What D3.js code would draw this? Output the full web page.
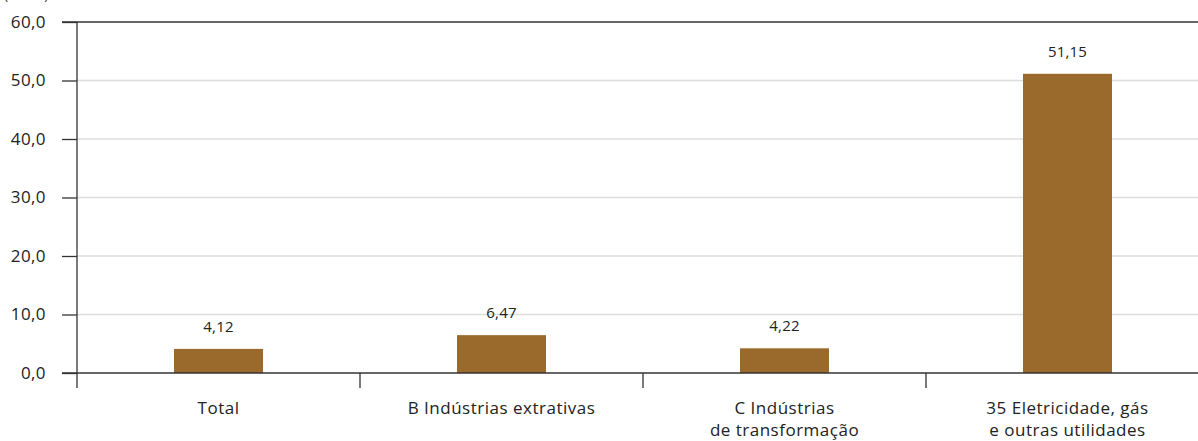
<!DOCTYPE html>
<html>
<head>
<meta charset="utf-8">
<script src="https://cdn.jsdelivr.net/npm/d3@7"></script>
<style>
  html, body { margin: 0; padding: 0; background: #fff; }
  svg { display: block; font-family: "Open Sans", "Noto Sans", sans-serif; }
</style>
</head>
<body>
<svg id="chart" width="1198" height="441"></svg>
<script>
// Categories (one label per line) and their values
const categories = [
  ["Total"],
  ["B Indústrias extrativas"],
  ["C Indústrias", "de transformação"],
  ["35 Eletricidade, gás", "e outras utilidades"]
];
const values = [4.12, 6.47, 4.22, 51.15];
const yTicks = [0, 10, 20, 30, 40, 50, 60];

(function () {
  const svg = d3.select("#chart");
  const W = 1198;
  const mLeft = 77, mTop = 22, mBottom = 373;
  const fmt = v => d3.format(".1f")(v).replace(".", ",");
  const fmt2 = v => d3.format(".2f")(v).replace(".", ",");

  const x = d3.scaleBand()
    .domain(d3.range(categories.length))
    .range([mLeft, mLeft + 283 * categories.length])
    .paddingInner(0).paddingOuter(0);

  const y = d3.scaleLinear().domain([0, 60]).range([mBottom, mTop]);

  // Unit label, running off the top edge
  svg.append("text")
    .attr("x", 4).attr("y", -1)
    .attr("font-size", 14).attr("fill", "#333")
    .text("(em %)");

  // Horizontal gridlines
  svg.append("g").selectAll("line")
    .data(yTicks.filter(t => t > 0 && t < 60))
    .join("line")
    .attr("x1", mLeft).attr("x2", W)
    .attr("y1", d => y(d)).attr("y2", d => y(d))
    .attr("stroke", "#dcdcdc").attr("stroke-width", 1.5);

  // Top border
  svg.append("line")
    .attr("x1", 62).attr("x2", W)
    .attr("y1", y(60)).attr("y2", y(60))
    .attr("stroke", "#333").attr("stroke-width", 1.3);

  // Bars
  const bw = 89;
  svg.append("g").selectAll("rect")
    .data(values)
    .join("rect")
    .attr("x", (d, i) => x(i) + x.bandwidth() / 2 - bw / 2)
    .attr("width", bw)
    .attr("y", d => y(d))
    .attr("height", d => y(0) - y(d))
    .attr("fill", "#9a692c");

  // Value labels
  svg.append("g").selectAll("text")
    .data(values)
    .join("text")
    .attr("x", (d, i) => x(i) + x.bandwidth() / 2)
    .attr("y", d => y(d) - 17)
    .attr("text-anchor", "middle")
    .attr("font-size", 15).attr("letter-spacing", 0.2).attr("fill", "#222")
    .text(d => fmt2(d));

  // Y axis
  const yAxis = d3.axisLeft(y).tickValues(yTicks).tickSize(15).tickPadding(16).tickFormat(fmt);
  const gy = svg.append("g").attr("transform", `translate(${mLeft},0)`).call(yAxis);
  gy.select(".domain").remove();
  gy.selectAll(".tick line").attr("stroke", "#333").attr("stroke-width", 1.3);
  gy.selectAll(".tick text").attr("font-size", 17).attr("letter-spacing", 0.4).attr("fill", "#222")
    .attr("font-family", "'Open Sans', 'Noto Sans', sans-serif");
  svg.append("line")
    .attr("x1", mLeft).attr("x2", mLeft)
    .attr("y1", mTop).attr("y2", mBottom + 15)
    .attr("stroke", "#333").attr("stroke-width", 1.3);

  // Baseline
  svg.append("line")
    .attr("x1", 62).attr("x2", W)
    .attr("y1", y(0)).attr("y2", y(0))
    .attr("stroke", "#333").attr("stroke-width", 1.3);

  // Category separators
  svg.append("g").selectAll("line")
    .data(d3.range(1, categories.length))
    .join("line")
    .attr("x1", i => x(i)).attr("x2", i => x(i))
    .attr("y1", mBottom).attr("y2", mBottom + 15)
    .attr("stroke", "#333").attr("stroke-width", 1.3);

  // Category labels, one text element per line
  const lines = [];
  categories.forEach((c, i) => c.forEach((t, j) => lines.push({ i, j, t })));
  svg.append("g").selectAll("text")
    .data(lines)
    .join("text")
    .attr("x", d => x(d.i) + x.bandwidth() / 2)
    .attr("y", d => 414 + d.j * 22)
    .attr("text-anchor", "middle")
    .attr("font-size", 17).attr("letter-spacing", 0.5).attr("fill", "#222")
    .text(d => d.t);
})();
</script>
</body>
</html>
